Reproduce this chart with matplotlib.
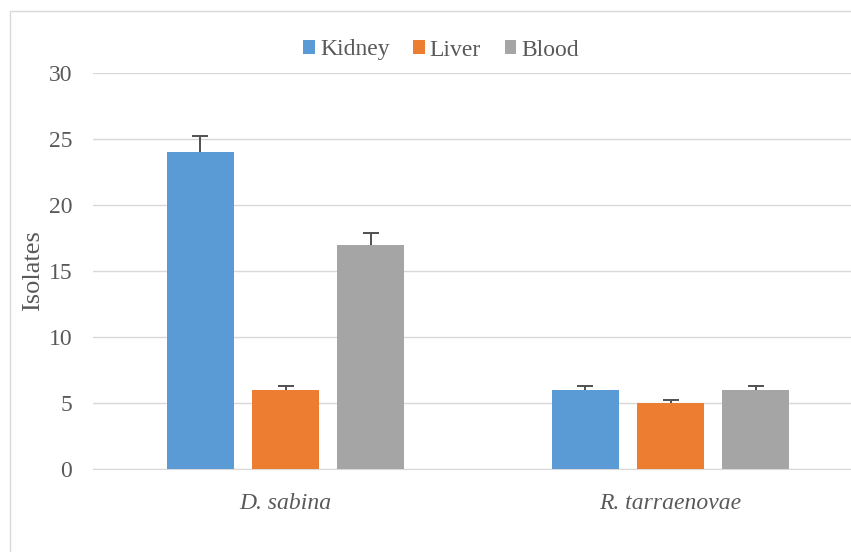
import matplotlib.pyplot as plt
import numpy as np
from matplotlib.patches import Rectangle

# Data
species = ['D. sabina', 'R. tarraenovae']
tissues = ['Kidney', 'Liver', 'Blood']
kidney = [24, 6]
liver = [6, 5]
blood = [17, 6]
kidney_err = [1.2, 0.3]
liver_err = [0.3, 0.25]
blood_err = [0.85, 0.3]
colors = ['#5B9BD5', '#ED7D31', '#A5A5A5']
text_color = '#595959'

plt.rcParams['font.family'] = ['Liberation Serif', 'DejaVu Serif']

fig = plt.figure(figsize=(8.51, 5.52), dpi=100)
ax = fig.add_axes([93 / 851, 83 / 552, 770 / 851, 396 / 552])

# Light frame around the chart area
fig.patches.append(Rectangle((10 / 851, -0.1), 1.2, 1.1 - 11 / 552,
                             transform=fig.transFigure, fill=False,
                             edgecolor='#D9D9D9', linewidth=1))

x = np.arange(len(species))
width = 0.174
step = 0.2208
series = [(kidney, kidney_err), (liver, liver_err), (blood, blood_err)]
for i, (vals, errs) in enumerate(series):
    pos = x + (i - 1) * step
    vals = np.array(vals)
    errs = np.array(errs)
    ax.bar(pos, vals, width, color=colors[i], label=tissues[i], zorder=3)
    # upper error bars only
    ax.vlines(pos, vals, vals + errs, color='#505050', linewidth=1.4, zorder=4)
    ax.plot(pos, vals + errs, ls='none', marker='_', markersize=11,
            markeredgewidth=1.4, color='#505050', zorder=4)

ax.set_xlim(-0.5, 1.5)
ax.set_ylim(0, 30)
ax.set_yticks(range(0, 31, 5))
ax.set_xticks(x)
ax.set_xticklabels(species, fontstyle='italic')
ax.grid(axis='y', color='#D9D9D9', linewidth=1, zorder=0)
for side in ['top', 'right', 'left']:
    ax.spines[side].set_visible(False)
ax.spines['bottom'].set_color('#D9D9D9')
ax.tick_params(axis='both', length=0, labelsize=17, colors=text_color)
ax.tick_params(axis='y', pad=15)
ax.tick_params(axis='x', pad=17)
ax.set_ylabel('Isolates', fontsize=19, color=text_color)
ax.yaxis.set_label_coords(-0.0636, 0.5)

fig.legend(loc='center', bbox_to_anchor=(441 / 851, 1 - 50 / 552), ncol=3,
           frameon=False, fontsize=17, labelcolor=text_color,
           handlelength=0.5, handleheight=0.5, handletextpad=0.2,
           columnspacing=1.0)

fig.savefig('out.png', dpi=100)
